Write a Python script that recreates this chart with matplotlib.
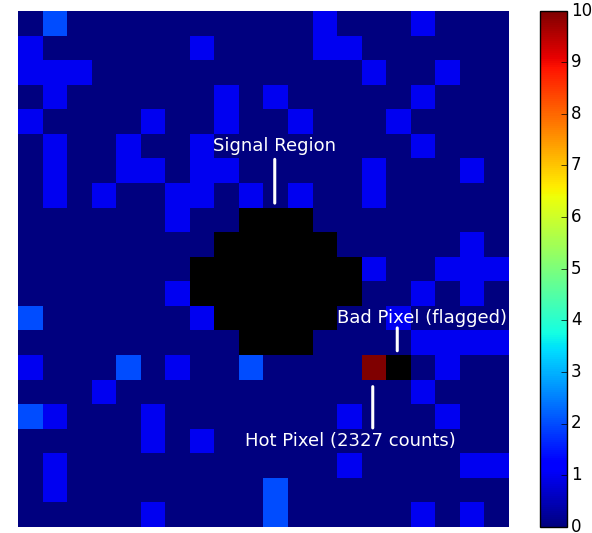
import numpy as np
import matplotlib
matplotlib.use("Agg")
import matplotlib.pyplot as plt

plt.style.use("classic")

n_rows, n_cols = 21, 20

# (row, col) of cells with 1 count
ones = [
    (0, 12), (0, 16),
    (1, 0), (1, 7), (1, 12), (1, 13),
    (2, 0), (2, 1), (2, 2), (2, 14), (2, 17),
    (3, 1), (3, 8), (3, 10), (3, 16),
    (4, 0), (4, 5), (4, 8), (4, 11), (4, 15),
    (5, 1), (5, 4), (5, 7), (5, 16),
    (6, 1), (6, 4), (6, 5), (6, 7), (6, 8), (6, 14), (6, 18),
    (7, 1), (7, 3), (7, 6), (7, 7), (7, 9), (7, 11), (7, 14),
    (8, 6),
    (9, 18),
    (10, 14), (10, 17), (10, 18), (10, 19),
    (11, 6), (11, 16), (11, 18),
    (12, 7), (12, 15),
    (13, 16), (13, 17), (13, 18), (13, 19),
    (14, 0), (14, 6), (14, 17),
    (15, 3), (15, 16),
    (16, 1), (16, 5), (16, 13), (16, 17),
    (17, 5), (17, 7),
    (18, 1), (18, 13), (18, 18), (18, 19),
    (19, 1),
    (20, 5), (20, 16), (20, 18),
]
# (row, col) of cells with 2 counts
twos = [(0, 1), (12, 0), (14, 4), (14, 9), (16, 0), (19, 10), (20, 10)]

# masked signal region: row -> (first col, last col)
signal_rows = {8: (9, 11), 9: (8, 12), 10: (7, 13), 11: (7, 13), 12: (8, 12), 13: (9, 11)}

hot_pixel = (14, 14)
hot_counts = 2327
bad_pixel = (14, 15)

data = np.zeros((n_rows, n_cols))
for r, c in ones:
    data[r, c] = 1
for r, c in twos:
    data[r, c] = 2
data[hot_pixel] = hot_counts
for r, (c0, c1) in signal_rows.items():
    data[r, c0:c1 + 1] = np.nan
data[bad_pixel] = np.nan

cmap = plt.get_cmap("jet").copy()
cmap.set_bad("black")

fig = plt.figure(figsize=(5.92, 5.33), dpi=100)
fig.patch.set_facecolor("white")
ax = fig.add_axes([17.5 / 592, 6.3 / 533, 490 / 592, 516 / 533])
cax = fig.add_axes([540 / 592, 6.3 / 533, 26.7 / 592, 516 / 533])

im = ax.imshow(np.ma.masked_invalid(data), cmap=cmap, vmin=0, vmax=10,
               interpolation="nearest", aspect="auto")
ax.axis("off")

cb = fig.colorbar(im, cax=cax, ticks=range(0, 11))
cb.ax.tick_params(labelsize=12, pad=3)
cb.outline.set_linewidth(1)

line_kw = dict(arrowprops=dict(arrowstyle="-", color="white", lw=2.2,
                               shrinkA=0, shrinkB=0))

ax.text(10.0, 5.0, "Signal Region", color="white", fontsize=13,
        ha="center", va="center")
ax.annotate("", xy=(10.0, 7.33), xytext=(10.0, 5.55), **line_kw)

ax.text(16.0, 12.0, "Bad Pixel (flagged)", color="white", fontsize=13,
        ha="center", va="center")
ax.annotate("", xy=(15.0, 13.34), xytext=(15.0, 12.41), **line_kw)

ax.text(13.07, 17.0, "Hot Pixel (%d counts)" % hot_counts, color="white",
        fontsize=13, ha="center", va="center")
ax.annotate("", xy=(14.0, 14.8), xytext=(14.0, 16.48), **line_kw)

fig.savefig("out.png", dpi=100, facecolor="white")
